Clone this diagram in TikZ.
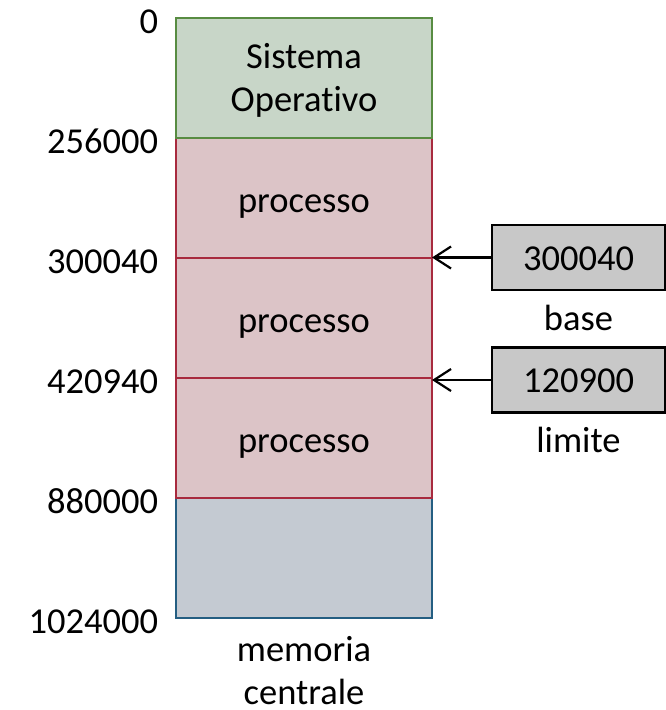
\documentclass[tikz,border=0pt]{standalone}
\usepackage{fontspec}
\setmainfont{Carlito}[RawFeature={-liga;-clig;-dlig}]
\usetikzlibrary{arrows.meta}
\definecolor{sofill}{RGB}{200,214,200}
\definecolor{soline}{RGB}{88,140,66}
\definecolor{pfill}{RGB}{220,196,199}
\definecolor{pline}{RGB}{168,42,62}
\definecolor{ffill}{RGB}{196,202,210}
\definecolor{fline}{RGB}{36,94,130}
\definecolor{regfill}{RGB}{200,200,200}
\begin{document}
\begin{tikzpicture}[x=1pt,y=-1pt,
  every node/.style={font=\fontsize{36.5}{43}\selectfont, inner sep=0pt, outer sep=0pt},
  region/.style={rectangle, minimum width=256pt, minimum height=120pt, line width=2.8pt},
  sobox/.style={region, fill=sofill, draw=soline},
  procbox/.style={region, fill=pfill, draw=pline, text height=28pt, text depth=0pt},
  freebox/.style={region, fill=ffill, draw=fline},
  regbox/.style={rectangle, draw=black, fill=regfill, line width=2.6pt, minimum width=173pt, minimum height=65pt, text height=25pt, text depth=0pt},
  addr/.style={anchor=base east},
  txt/.style={anchor=base},
  arr/.style={draw=black, line width=2.2pt, -{Straight Barb[length=17pt,width=22pt]}}
]
\useasboundingbox (0,0) rectangle (666,710);
% memory regions (bottom to top so upper borders overlap)
\node[freebox] (free) at (304,558) {};
\node[procbox] (p3) at (304,438) {processo};
\node[procbox] (p2) at (304,318) {processo};
\node[procbox] (p1) at (304,198) {processo};
\node[sobox] (so) at (304,78) {};
\node[txt] (so1) at (304,68) {Sistema};
\node[txt] (so2) at (304,111) {Operativo};
% addresses
\node[addr] (l0) at (158,33) {0};
\node[addr] (l1) at (158,153) {256000};
\node[addr] (l2) at (158,273) {300040};
\node[addr] (l3) at (158,393) {420940};
\node[addr] (l4) at (158,513) {880000};
\node[addr] (l5) at (158,633) {1024000};
% registers
\node[regbox] (base) at (578.5,257.5) {300040};
\node[regbox] (lim) at (578.5,380) {120900};
\node[txt] (basel) at (578.5,330) {base};
\node[txt] (liml) at (578.5,452) {limite};
\draw[arr] (base.west) -- (base.west -| p2.east);
\draw[arr] (lim.west) -- (lim.west -| p3.east);
% caption
\node[txt] (cap1) at (304,661) {memoria};
\node[txt] (cap2) at (304,704) {centrale};
\end{tikzpicture}
\end{document}
